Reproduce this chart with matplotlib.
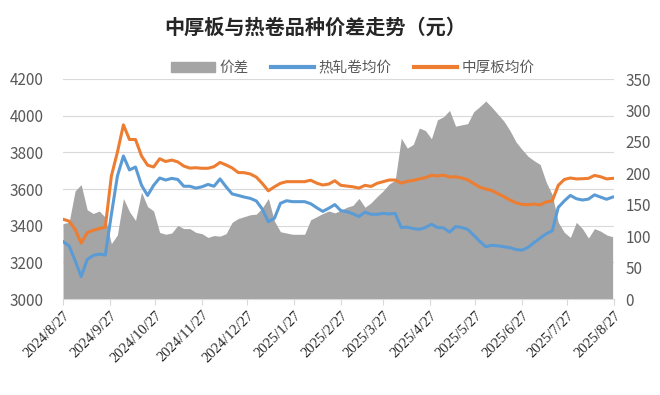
import pandas as pd
import numpy as np
import matplotlib
matplotlib.use("Agg")
import matplotlib.pyplot as plt
from matplotlib.patches import Patch
from matplotlib.lines import Line2D

plt.rcParams['font.family'] = ['Noto Sans CJK SC', 'DejaVu Sans']

# sample dates, every 4 days
dates = pd.date_range("2024-08-27", "2025-08-27", freq="4D")

# 中厚板均价
plate = [3435, 3425, 3380, 3305, 3362, 3375, 3384, 3392, 3670, 3800,
         3950, 3870, 3870, 3780, 3730, 3720, 3765, 3750, 3758, 3748,
         3725, 3714, 3716, 3713, 3713, 3722, 3745, 3731, 3715, 3690,
         3689, 3682, 3665, 3630, 3590, 3612, 3631, 3640, 3640, 3640,
         3640, 3648, 3632, 3622, 3627, 3645, 3620, 3616, 3612, 3605,
         3620, 3614, 3631, 3640, 3649, 3649, 3632, 3642, 3647, 3655,
         3662, 3675, 3671, 3676, 3665, 3667, 3660, 3650, 3630, 3610,
         3600, 3592, 3575, 3558, 3540, 3525, 3516, 3514, 3518, 3513,
         3530, 3535, 3620, 3652, 3660, 3655, 3656, 3658, 3674, 3667,
         3655, 3658]

# 热轧卷均价
coil = [3313, 3290, 3210, 3122, 3215, 3238, 3245, 3240, 3460, 3670,
        3780, 3704, 3720, 3620, 3565, 3620, 3660, 3649, 3658, 3652,
        3615, 3615, 3605, 3612, 3625, 3615, 3655, 3612, 3573, 3565,
        3556, 3549, 3535, 3490, 3422, 3440, 3522, 3536, 3531, 3531,
        3531, 3520, 3498, 3478, 3495, 3515, 3482, 3476, 3465, 3450,
        3474, 3462, 3462, 3467, 3464, 3467, 3390, 3392, 3384, 3380,
        3390, 3408, 3390, 3388, 3365, 3395, 3390, 3380, 3348, 3315,
        3285, 3293, 3290, 3285, 3280, 3270, 3266, 3282, 3308, 3332,
        3356, 3372, 3500, 3535, 3565, 3547, 3540, 3545, 3568, 3556,
        3544, 3556]

# 价差 (right axis)
spread = [120, 122, 172, 182, 142, 136, 140, 130, 88, 102,
          160, 139, 125, 170, 147, 140, 106, 103, 105, 117,
          112, 112, 106, 104, 98, 101, 100, 104, 122, 128,
          131, 134, 135, 145, 160, 124, 107, 105, 103, 103,
          103, 126, 131, 136, 140, 137, 141, 146, 149, 160,
          146, 153, 163, 172, 183, 189, 256, 240, 246, 272,
          268, 255, 285, 290, 300, 275, 277, 279, 298, 306,
          315, 305, 294, 283, 268, 250, 238, 227, 220, 214,
          186, 166, 122, 106, 98, 122, 112, 97, 112, 108,
          102, 99]

left_ticks = [3000, 3200, 3400, 3600, 3800, 4000, 4200]
right_ticks = [0, 50, 100, 150, 200, 250, 300, 350]
month_ticks = [pd.Timestamp("2024-08-27") + pd.DateOffset(months=i) for i in range(13)]
month_labels = [f"{d.year}/{d.month}/{d.day}" for d in month_ticks]

c_gray = '#a5a5a5'
c_blue = '#5b9bd5'
c_orange = '#ed7d31'
c_text = '#595959'

fig = plt.figure(figsize=(6.6, 3.95), dpi=100)
ax = fig.add_axes([0.0955, 0.243, 0.835, 0.557])
ax2 = ax.twinx()

# area behind, lines in front
ax.set_zorder(ax2.get_zorder() + 1)
ax.patch.set_visible(False)

for v in left_ticks[1:]:
    ax2.axhline((v - 3000) / 1200 * 350, color='#d9d9d9', lw=0.8, zorder=0)
ax2.fill_between(dates, 0, spread, color=c_gray, lw=0, zorder=1)

ax.plot(dates, coil, color=c_blue, lw=2.2, solid_joinstyle='round')
ax.plot(dates, plate, color=c_orange, lw=2.2, solid_joinstyle='round')

ax.set_ylim(3000, 4200)
ax2.set_ylim(0, 350)
ax.set_yticks(left_ticks)
ax2.set_yticks(right_ticks)
ax.set_xlim(pd.Timestamp("2024-08-27"), pd.Timestamp("2025-08-27"))
ax.set_xticks(month_ticks)
ax.set_xticklabels(month_labels, rotation=45, ha='right', va='top',
                   rotation_mode='anchor', family='Liberation Serif',
                   fontsize=10.5, color='#262626')

for a in (ax, ax2):
    for s in a.spines.values():
        s.set_visible(False)
ax.spines['bottom'].set_visible(True)
ax.spines['bottom'].set_color('#d9d9d9')

ax.tick_params(axis='y', length=0, labelsize=11, labelcolor=c_text, pad=14)
ax2.tick_params(axis='y', length=0, labelsize=11, labelcolor=c_text, pad=8)
ax.tick_params(axis='x', length=4, color='#d9d9d9', pad=3)
ax2.tick_params(axis='x', length=0)

fig.text(0.478, 0.93, '中厚板与热卷品种价差走势（元）', ha='center', va='center',
         fontsize=14.5, fontweight='bold', color='#262626')

handles = [Patch(color=c_gray),
           Line2D([], [], color=c_blue, lw=3),
           Line2D([], [], color=c_orange, lw=3)]
fig.legend(handles, ['价差', '热轧卷均价', '中厚板均价'], loc='center',
           bbox_to_anchor=(0.535, 0.828), ncol=3, frameon=False,
           fontsize=10.5, labelcolor=c_text, handlelength=3.0,
           handletextpad=0.3, columnspacing=1.5)

fig.savefig('out.png', dpi=100)
